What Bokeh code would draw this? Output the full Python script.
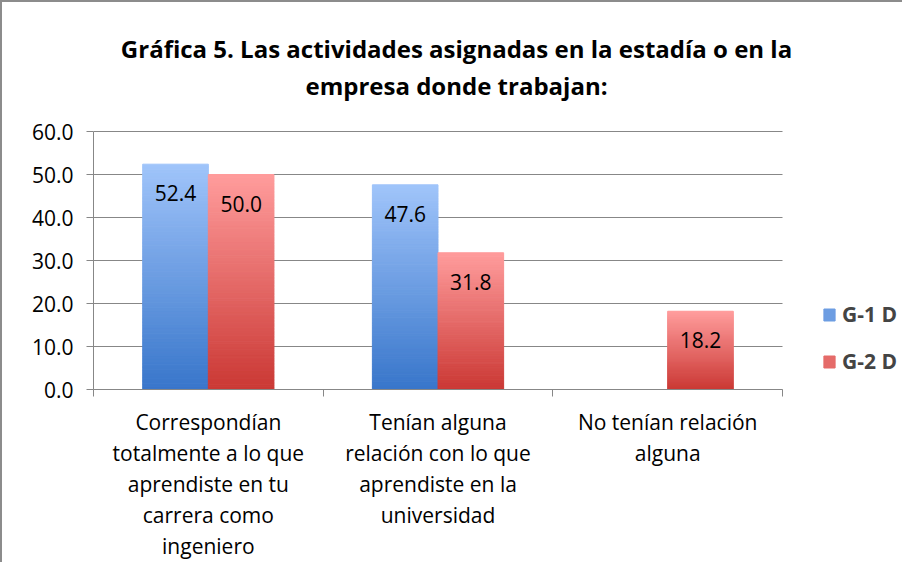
from bokeh.plotting import figure
from bokeh.models import (ColumnDataSource, Range1d, LinearAxis, Label,
                          FixedTicker, NumeralTickFormatter, LabelSet, Legend, LegendItem)
from bokeh.transform import dodge
from bokeh.core.properties import value
from bokeh.embed import file_html
from bokeh.resources import INLINE

# ---------------- data ----------------
title_lines = ["Gráfica 5. Las actividades asignadas en la estadía o en la",
               "empresa donde trabajan:"]
categories = ["Correspondían\ntotalmente a lo que\naprendiste en tu\ncarrera como\ningeniero",
              "Tenían alguna\nrelación con lo que\naprendiste en la\nuniversidad",
              "No tenían relación\nalguna"]
series_names = ["G-1 D", "G-2 D"]
g1_values = [52.4, 47.6, None]
g2_values = [50.0, 31.8, 18.2]
y_ticks = [0, 10, 20, 30, 40, 50, 60]

# ---------------- style / layout ----------------
FONT = "Open Sans"
GRID = "#878787"
blue_bottom, blue_top = (56, 118, 202), (160, 196, 250)
red_bottom, red_top = (202, 56, 52), (255, 156, 156)
N_BANDS = 80
BAR_W = 1 / 3.5
OFFSETS = [-BAR_W / 2, BAR_W / 2]

W, H = 902, 562
LEFT, BOTTOM = 91, 175          # left axis panel, bottom axis panels
PX_PER_CAT = 229.67             # width of one category in px
PX_PER_UNIT = 4.3               # px per y unit
frame_w, frame_h = W - LEFT, H - BOTTOM

ncat = len(categories)
cat_pos = [i + 0.5 for i in range(ncat)]          # category centres on a 0..ncat axis

def interp(c0, c1, t):
    return "#%02x%02x%02x" % tuple(int(round(a + (b - a) * t)) for a, b in zip(c0, c1))

p = figure(width=W, height=H,
           x_range=Range1d(0, frame_w / PX_PER_CAT), y_range=Range1d(0, frame_h / PX_PER_UNIT),
           output_backend="svg", toolbar_location=None,
           x_axis_location=None, y_axis_location="left",
           min_border_left=LEFT, min_border_right=0,
           min_border_top=0, min_border_bottom=BOTTOM)
p.styles = {"border-left": "2px solid #8c8c8c", "border-top": "2px solid #8c8c8c"}
p.outline_line_color = None
p.background_fill_color = "white"
p.border_fill_color = "white"
p.xgrid.visible = False
p.ygrid.visible = False

# y axis
yax = p.yaxis[0]
yax.bounds = (y_ticks[0], y_ticks[-1])
yax.ticker = FixedTicker(ticks=y_ticks)
yax.formatter = NumeralTickFormatter(format="0.0")
yax.axis_line_color = GRID
yax.major_tick_line_color = GRID
yax.major_tick_out = 7
yax.major_tick_in = 0
yax.minor_tick_line_color = None
yax.major_label_text_font = FONT
yax.major_label_text_font_size = "21px"
yax.major_label_text_color = "black"
yax.major_label_standoff = 13

# horizontal gridlines over the category area only
p.segment(x0=[0] * len(y_ticks), x1=[ncat] * len(y_ticks), y0=y_ticks, y1=y_ticks,
          line_color=GRID, line_width=1)

# x axis: boundary ticks + category labels
bounds = list(range(ncat + 1))
bax = LinearAxis(ticker=FixedTicker(ticks=bounds), bounds=(0, ncat),
                 major_label_overrides={i: "" for i in bounds},
                 major_label_text_font_size="1px", major_label_standoff=0,
                 axis_line_color=GRID, major_tick_line_color=GRID,
                 major_tick_out=7, major_tick_in=0, minor_tick_line_color=None)
p.add_layout(bax, "below")
cax = LinearAxis(ticker=FixedTicker(ticks=cat_pos),
                 major_label_overrides={pos: c for pos, c in zip(cat_pos, categories)},
                 axis_line_color=None, major_tick_line_color=None, minor_tick_line_color=None,
                 major_tick_out=0, major_tick_in=0, major_label_standoff=11,
                 major_label_text_font=FONT, major_label_text_font_size="21px",
                 major_label_text_color="black",
                 major_label_text_line_height=1.11)
p.add_layout(cax, "below")

# bars with vertical gradient
renderers = []
for vals, off, c_bot, c_top in [(g1_values, OFFSETS[0], blue_bottom, blue_top),
                                (g2_values, OFFSETS[1], red_bottom, red_top)]:
    xs, bots, tops, cols = [], [], [], []
    for cx, v in zip(cat_pos, vals):
        if v is None:
            continue
        for i in range(N_BANDS):
            xs.append(cx)
            bots.append(v * i / N_BANDS)
            tops.append(v * (i + 1) / N_BANDS)
            cols.append(interp(c_bot, c_top, (i + 0.5) / N_BANDS))
    src = ColumnDataSource(dict(x=xs, bottom=bots, top=tops, color=cols))
    r = p.vbar(x=dodge("x", off), bottom="bottom", top="top", width=BAR_W,
               fill_color="color", line_color="color", line_width=1, source=src)
    renderers.append(r)

    lx = [cx for cx, v in zip(cat_pos, vals) if v is not None]
    ly = [v for v in vals if v is not None]
    lsrc = ColumnDataSource(dict(x=lx, y=ly, text=["%.1f" % v for v in ly]))
    p.add_layout(LabelSet(x=dodge("x", off), y="y", text="text", source=lsrc,
                          text_align="center", text_baseline="middle", y_offset=-29,
                          text_font=value(FONT), text_font_size="21px", text_color="black"))

# legend (inside the frame, right of the category area)
legend = Legend(items=[LegendItem(label=series_names[0], renderers=[renderers[0]], index=N_BANDS // 2),
                       LegendItem(label=series_names[1], renderers=[renderers[1]], index=N_BANDS // 2)],
                location=(729, 14), padding=0, margin=0, spacing=19,
                border_line_color=None, background_fill_alpha=0,
                glyph_width=14, glyph_height=15, label_height=26, label_standoff=6,
                label_text_font=FONT, label_text_font_size="21px", label_text_font_style="bold")
p.add_layout(legend)

# title: two centred bold lines
for line, cy in zip(title_lines, [46, 83]):
    p.add_layout(Label(x=363, y=frame_h - cy, x_units="screen", y_units="screen",
                       text=line, text_align="center", text_baseline="middle",
                       text_font=FONT, text_font_size="24px", text_font_style="bold",
                       text_color="black"))

open("out.html", "w").write(file_html(p, INLINE))
